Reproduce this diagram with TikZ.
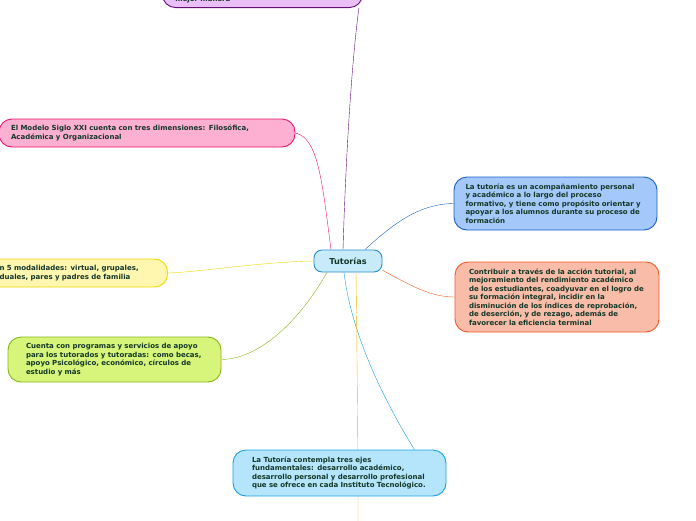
\documentclass[tikz,border=0pt]{standalone}
\usepackage{fontspec}
\setmainfont{DejaVu Sans}
\usepackage{tikz}
\usetikzlibrary{backgrounds}

\definecolor{txt}{RGB}{20,55,40}
\definecolor{cenB}{RGB}{40,140,200}
\definecolor{cenF}{RGB}{200,235,250}
\definecolor{purB}{RGB}{100,15,120}
\definecolor{purF}{RGB}{234,190,247}
\definecolor{pinB}{RGB}{232,20,110}
\definecolor{pinF}{RGB}{253,176,210}
\definecolor{bluB}{RGB}{25,95,200}
\definecolor{bluF}{RGB}{165,200,250}
\definecolor{salB}{RGB}{240,90,35}
\definecolor{salF}{RGB}{248,188,168}
\definecolor{yelB}{RGB}{240,215,0}
\definecolor{yelF}{RGB}{255,246,176}
\definecolor{grnB}{RGB}{135,180,25}
\definecolor{grnF}{RGB}{214,245,122}
\definecolor{cyaB}{RGB}{25,160,225}
\definecolor{cyaF}{RGB}{180,229,251}
\definecolor{gold}{RGB}{245,185,0}

\tikzset{idea/.style={draw,line width=0.9pt,rounded corners=13pt,align=left,
    inner xsep=14pt,inner ysep=5pt,text=txt,
    font=\bfseries\fontsize{7}{8.5}\selectfont}}

\begin{document}
\begin{tikzpicture}[x=1pt,y=-1pt]
\useasboundingbox (0,0) rectangle (696,520);
\clip (0,0) rectangle (696,520);
\begin{scope}[every node/.style={idea}]
\node (T) at (348,261) [draw=cenB,fill=cenF,rounded corners=8pt,inner xsep=6pt,minimum width=68pt,minimum height=22pt,font=\bfseries\fontsize{8.2}{9}\selectfont] {Tutorías};
\node (A) [anchor=south west,draw=purB,fill=purF,inner xsep=13pt,text width=174pt,text height=30pt,text depth=2pt,inner ysep=4pt] at (162,8) {mejor manera};
\node (B) [draw=pinB,fill=pinF,text width=272pt,inner xsep=12pt,minimum height=28pt] at (147,133) {El Modelo Siglo XXI cuenta con tres dimensiones: Filosófica,\\Académica y Organizacional};
\node (C) [draw=bluB,fill=bluF,text width=180pt,inner xsep=11.5pt,minimum height=53pt] at (555.5,203.5) {La tutoría es un acompañamiento personal\\y académico a lo largo del proceso\\formativo, y tiene como propósito orientar y\\apoyar a los alumnos durante su proceso de\\formación};
\node (D) [draw=salB,fill=salF,text width=176pt,minimum height=70pt] at (557,297) {Contribuir a través de la acción tutorial, al\\mejoramiento del rendimiento académico\\de los estudiantes, coadyuvar en el logro de\\su formación integral, incidir en la\\disminución de los índices de reprobación,\\de deserción, y de rezago, además de\\favorecer la eficiencia terminal};
\node (E) [anchor=east,draw=yelB,fill=yelF,text width=154pt,minimum height=28pt] at (168,273) {n 5 modalidades: virtual, grupales,\\duales, pares y padres de familia};
\node (F) [draw=grnB,fill=grnF,text width=177pt,inner xsep=18pt,minimum height=45pt] at (114.5,359.5) {Cuenta con programas y servicios de apoyo\\para los tutorados y tutoradas: como becas,\\apoyo Psicológico, económico, círculos de\\estudio y más};
\node (G) [draw=cyaB,fill=cyaF,text width=175pt,inner xsep=19pt,minimum height=46pt] at (339.5,473) {La Tutoría contempla tres ejes\\fundamentales: desarrollo académico,\\desarrollo personal y desarrollo profesional\\que se ofrece en cada Instituto Tecnológico.};
\end{scope}
\coordinate (Z) at (358,522);
\begin{scope}[on background layer,line width=1.5pt]
\draw [purB] ([xshift=-5pt]T.north) .. controls (346,150) and (352,60) .. ([xshift=-4pt]A.south east);
\draw [pinB] ([xshift=-17pt]T.north) .. controls (322,180) and (318,138) .. (B.east);
\draw [bluB] ([xshift=17pt]T.north) .. controls (395,222) and (420,204) .. (C.west);
\draw [salB] (T.-15) .. controls (410,285) and (430,297) .. (D.west);
\draw [yelB] (T.west) .. controls (260,262) and (200,272) .. (E.east);
\draw [grnB] ([xshift=-21pt]T.south) .. controls (300,320) and (260,359) .. (F.east);
\draw [cyaB] ([xshift=-4pt]T.south) .. controls (352,340) and (390,410) .. ([xshift=-32pt]G.north east);
\draw [gold] ([xshift=8pt]T.south) .. controls (357,350) and (358,440) .. (Z);
\end{scope}
\end{tikzpicture}
\end{document}
